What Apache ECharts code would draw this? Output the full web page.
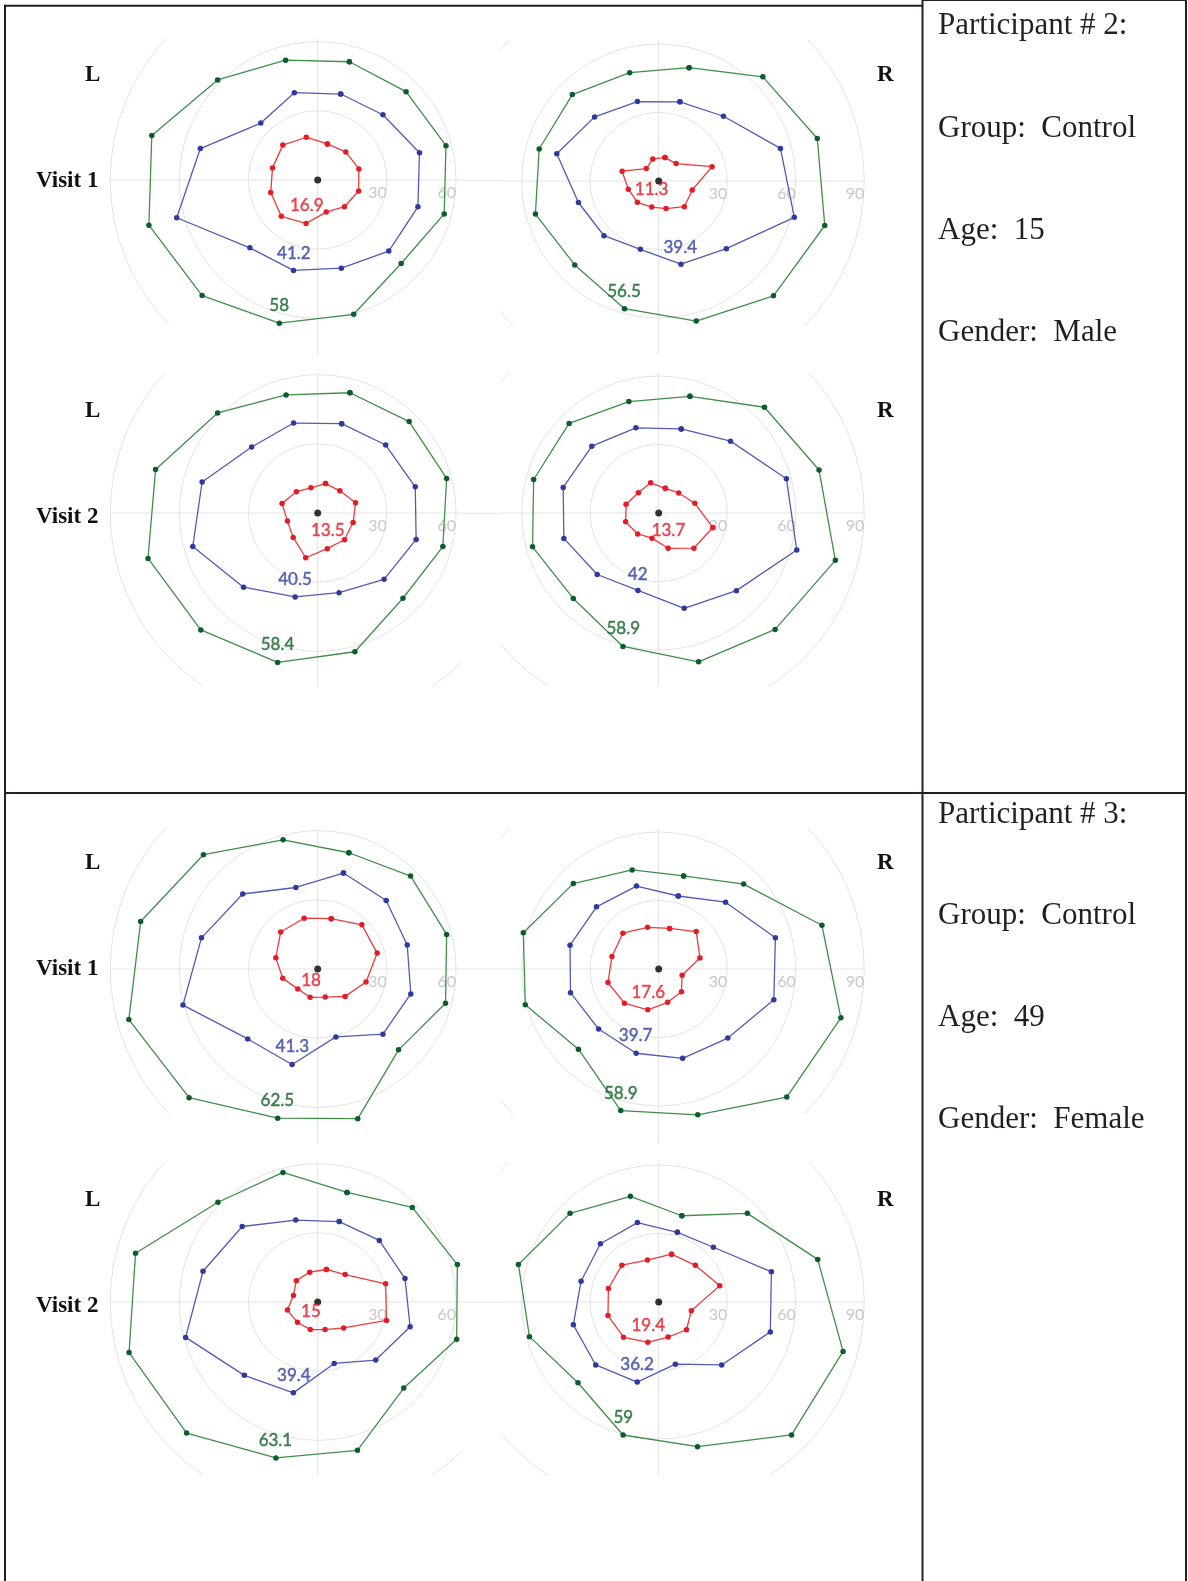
<!DOCTYPE html>
<html>
<head>
<meta charset="utf-8">
<script src="https://cdn.jsdelivr.net/npm/echarts/dist/echarts.min.js"></script>
<style>
  html, body { margin: 0; padding: 0; background: #ffffff; }
  #page { position: relative; width: 1188px; height: 1581px; overflow: hidden; background: #ffffff; }
  #page > div { position: absolute; }
</style>
</head>
<body>
<div id="page">
  <div id="sheet" style="left:0;top:0;width:1188px;height:1581px"></div>
</div>
<script>
// Compass direction (degrees clockwise from the top) of the 12 tested meridians
const meridians = [15, 45, 75, 105, 135, 165, 195, 225, 255, 285, 315, 345];

// Radius-axis ticks (degrees of visual field)
const radiusTicks = [0, 30, 60, 90];

// Participant 2, visit 1
const p2v1L_inner  = [16.2, 17.2, 18.5, 18.4, 16.4, 14.4, 19.5, 22.3, 21.1, 20.3, 21.4, 19.2];
const p2v1L_middle = [38.6, 40.0, 45.7, 45.0, 43.6, 39.6, 40.6, 41.6, 63.3, 52.7, 34.9, 39.2];
const p2v1L_outer  = [53.1, 54.2, 57.6, 56.8, 51.2, 60.3, 64.3, 70.9, 75.8, 74.5, 61.4, 53.8];
const p2v1L_means  = ['16.9', '41.2', '58'];
const p2v1R_inner  = [10.6, 10.8, 24.2, 15.2, 15.9, 12.5, 11.8, 13.2, 13.8, 16.6, 7.7, 10.0];
const p2v1R_middle = [35.9, 40.1, 55.2, 61.5, 41.9, 37.7, 31.0, 33.9, 36.4, 46.2, 39.7, 36.0];
const p2v1R_outer  = [51.4, 64.5, 71.9, 75.3, 71.1, 63.5, 57.9, 52.0, 55.9, 54.2, 53.5, 49.1];
const p2v1R_means  = ['11.3', '39.4', '56.5'];

// Participant 2, visit 2
const p2v2L_inner  = [13.2, 13.6, 17.0, 15.9, 16.4, 16.0, 20.1, 15.0, 13.6, 16.0, 13.1, 11.3];
const p2v2L_middle = [40.1, 41.7, 43.8, 44.2, 40.7, 35.8, 37.7, 45.5, 56.1, 51.9, 40.5, 40.4];
const p2v2L_outer  = [54.0, 56.1, 57.9, 56.2, 52.3, 62.3, 67.1, 71.7, 76.2, 72.8, 61.4, 53.0];
const p2v2L_means  = ['13.5', '40.5', '58.4'];
const p2v2R_inner  = [11.2, 12.4, 16.4, 24.5, 21.8, 16.0, 11.4, 13.0, 15.0, 14.8, 12.6, 13.7];
const p2v2R_middle = [38.1, 44.5, 57.9, 62.6, 48.1, 43.2, 35.1, 38.1, 43.0, 43.3, 41.4, 38.6];
const p2v2R_outer  = [52.9, 65.5, 72.7, 80.1, 72.1, 67.5, 60.5, 52.9, 57.2, 56.7, 55.5, 50.5];
const p2v2R_means  = ['13.7', '42', '58.9'];

// Participant 3, visit 1
const p3v1L_inner  = [22.6, 27.1, 26.7, 21.7, 16.8, 12.6, 12.7, 12.2, 15.7, 18.8, 22.7, 22.8];
const p3v1L_middle = [43.1, 42.0, 40.2, 41.8, 40.0, 30.5, 42.9, 42.9, 60.5, 52.2, 46.0, 36.6];
const p3v1L_outer  = [52.2, 57.0, 57.9, 57.4, 49.6, 67.2, 67.0, 78.9, 84.8, 79.5, 70.1, 58.0];
const p3v1L_means  = ['18', '41.3', '62.5'];
const p3v1R_inner  = [18.4, 23.2, 18.7, 10.6, 14.1, 15.1, 18.5, 21.2, 23.0, 21.2, 22.2, 18.9];
const p3v1R_middle = [33.1, 41.4, 52.9, 52.2, 42.8, 40.5, 38.2, 37.2, 40.0, 40.2, 38.5, 37.6];
const p3v1R_outer  = [42.2, 52.6, 74.0, 82.6, 79.3, 66.1, 64.2, 49.7, 60.5, 61.4, 52.9, 44.9];
const p3v1R_means  = ['17.6', '39.7', '58.9'];

// Participant 3, visit 2
const p3v2L_inner  = [14.6, 16.8, 30.5, 30.9, 15.9, 12.4, 12.4, 12.4, 13.6, 10.9, 13.1, 13.4];
const p3v2L_middle = [36.1, 37.8, 39.2, 41.5, 35.6, 27.6, 40.8, 45.0, 59.3, 51.5, 46.3, 36.8];
const p3v2L_outer  = [49.2, 58.0, 62.7, 62.4, 52.8, 66.6, 70.0, 80.4, 84.7, 81.8, 61.2, 58.2];
const p3v2L_means  = ['15', '39.4', '63.1'];
const p3v2R_inner  = [21.7, 22.7, 27.7, 14.8, 17.2, 15.9, 18.3, 21.8, 23.0, 22.8, 22.8, 19.0];
const p3v2R_middle = [31.6, 33.9, 51.1, 50.6, 39.0, 28.2, 36.3, 39.0, 38.7, 35.2, 36.1, 36.0];
const p3v2R_outer  = [39.1, 54.9, 72.1, 83.6, 82.3, 65.6, 60.3, 50.0, 58.6, 63.6, 54.9, 47.9];
const p3v2R_means  = ['19.4', '36.2', '59'];

// Participant details shown in the right-hand column
const participants = [
  ['Participant # 2:', 'Group:  Control', 'Age:  15', 'Gender:  Male'],
  ['Participant # 3:', 'Group:  Control', 'Age:  49', 'Gender:  Female']
];

// ---------------------------------------------------------------------------
// Styling
const ISOPTER_STYLE = [
  { line: '#ee3b3b', dot: '#e21d27', text: '#e41e2a' },   // inner
  { line: '#515bb6', dot: '#2e3b9c', text: '#3543a3' },   // middle
  { line: '#3f8f47', dot: '#0c5d2b', text: '#14652c' }    // outer
];
const GRID_COLOR = '#e3e3e3';
const INK = '#231f20';
const LABEL_FONT = 'Lato';

// Panel layout: grid clipping box [left, top, width, height], polar centre (page px),
// radius of the 90 ring in px, and where the summary numbers sit ([radius, compass deg]).
const panels = [
  { box: [106, 39, 356, 286],   center: [317.7, 180],    R: 207.5,
    rings: [p2v1L_inner, p2v1L_middle, p2v1L_outer], means: p2v1L_means,
    spots: [[12.1, 203], [33.5, 198], [57.1, 197]] },
  { box: [500, 39.5, 368, 286], center: [658.7, 180.5],  R: 205.5,
    rings: [p2v1R_inner, p2v1R_middle, p2v1R_outer], means: p2v1R_means,
    spots: [[4.9, 219], [30.5, 162], [50.6, 197.5]] },
  { box: [106, 373.3, 356, 313], center: [317.7, 513.3], R: 207.5,
    rings: [p2v2L_inner, p2v2L_middle, p2v2L_outer], means: p2v2L_means,
    spots: [[8.7, 150], [30.3, 199], [59.6, 197]] },
  { box: [500, 373.3, 368, 313], center: [658.7, 513.3], R: 205.5,
    rings: [p2v2R_inner, p2v2R_middle, p2v2R_outer], means: p2v2R_means,
    spots: [[8.8, 151], [28.3, 199], [53.1, 197]] },
  { box: [106, 828, 356, 286],   center: [317.7, 969],    R: 207.5,
    rings: [p3v1L_inner, p3v1L_middle, p3v1L_outer], means: p3v1L_means,
    spots: [[5.6, 211], [35.5, 198], [59.8, 197]] },
  { box: [500, 828, 368, 286],   center: [658.7, 969],    R: 205.5,
    rings: [p3v1R_inner, p3v1R_middle, p3v1R_outer], means: p3v1R_means,
    spots: [[11.2, 204], [31.0, 199], [56.9, 197]] },
  { box: [106, 1162.3, 356, 313], center: [317.7, 1302.3], R: 207.5,
    rings: [p3v2L_inner, p3v2L_middle, p3v2L_outer], means: p3v2L_means,
    spots: [[5.0, 216], [33.5, 198], [62.7, 197]] },
  { box: [500, 1162.3, 368, 313], center: [658.7, 1302.3], R: 205.5,
    rings: [p3v2R_inner, p3v2R_middle, p3v2R_outer], means: p3v2R_means,
    spots: [[11.2, 204], [29.1, 199], [53.1, 197]] }
];

// The angle axis starts at 3 o'clock and runs clockwise, so a compass bearing
// (clockwise from 12 o'clock) maps to bearing - 90.
function toAxisAngle(bearing) { return (bearing + 270) % 360; }

function closedRing(values) {
  const pts = values.map((r, i) => [r, toAxisAngle(meridians[i])]);
  pts.push(pts[0]);
  return pts;
}

function axes(showGrid) {
  return {
    angleAxis: {
      type: 'value', min: 0, max: 360, interval: 90,
      startAngle: 0, clockwise: true,
      axisLine: { show: false }, axisTick: { show: false }, axisLabel: { show: false },
      splitLine: { show: showGrid, lineStyle: { color: GRID_COLOR, width: 1 } }
    },
    radiusAxis: {
      type: 'value',
      min: radiusTicks[0], max: radiusTicks[radiusTicks.length - 1],
      interval: radiusTicks[1] - radiusTicks[0],
      axisLine: { show: false }, axisTick: { show: false },
      axisLabel: {
        show: showGrid, color: '#c8c8c8', fontFamily: LABEL_FONT, fontSize: 16,
        margin: -13, align: 'right', verticalAlign: 'middle',
        formatter: v => (v === 0 ? '' : String(v))
      },
      splitLine: { show: showGrid, lineStyle: { color: GRID_COLOR, width: 1 } }
    }
  };
}

// Grid layer: rings, meridian cross and tick labels, clipped to the panel box
function gridOption(p, box) {
  return Object.assign({
    animation: false,
    polar: { center: [p.center[0] - box[0], p.center[1] - box[1]], radius: p.R },
    series: []
  }, axes(true));
}

// Data layer: the three isopters, fixation point and summary numbers
function dataOption(p, box) {
  const series = [];
  [2, 1, 0].forEach(k => {
    const st = ISOPTER_STYLE[k];
    series.push({
      type: 'line',
      coordinateSystem: 'polar',
      data: closedRing(p.rings[k]),
      symbol: 'circle',
      symbolSize: 5.5,
      showSymbol: true,
      clip: false,
      lineStyle: { color: st.line, width: 1.3 },
      itemStyle: { color: st.dot },
      emphasis: { disabled: true },
      z: 3 + (2 - k)
    });
  });
  series.push({
    type: 'scatter',
    coordinateSystem: 'polar',
    data: [[0, 0]],
    symbolSize: 7,
    itemStyle: { color: '#000000' },
    z: 8
  });
  series.push({
    type: 'scatter',
    coordinateSystem: 'polar',
    symbolSize: 0,
    z: 9,
    data: p.spots.map((s, k) => ({
      value: [s[0], toAxisAngle(s[1])],
      label: {
        show: true,
        position: 'inside',
        formatter: p.means[k],
        color: ISOPTER_STYLE[k].text,
        textBorderColor: ISOPTER_STYLE[k].text,
        textBorderWidth: 0.45,
        fontFamily: LABEL_FONT,
        fontSize: 17
      }
    }))
  });
  return Object.assign({
    animation: false,
    polar: { center: [p.center[0] - box[0], p.center[1] - box[1]], radius: p.R },
    series
  }, axes(false));
}

// ---------------------------------------------------------------------------
// Table frame, side labels and participant details
const page = document.getElementById('page');
const sheet = echarts.init(document.getElementById('sheet'), null, { renderer: 'canvas' });

const graphics = [];
function rule(x1, y1, x2, y2, color, width) {
  graphics.push({ type: 'line', silent: true, z: 1,
    shape: { x1, y1, x2, y2 }, style: { stroke: color, lineWidth: width } });
}
function label(text, x, baseline, font, size, color) {
  graphics.push({ type: 'text', silent: true, z: 2,
    style: { text, x, y: baseline - size * 0.34, font: font, fill: color,
             textAlign: 'left', textVerticalAlign: 'middle' } });
}

// table borders
rule(4, 5.7, 923, 5.7, INK, 2);
rule(922.5, 0, 1187, 0, INK, 2);
rule(5, 4.7, 5, 1581, INK, 2);
rule(922.5, 0, 922.5, 1581, INK, 2);
rule(1186, 0, 1186, 1581, INK, 2);
rule(4, 793, 1187, 793, INK, 2);

// horizontal meridian bridging the gap between left- and right-eye grids
[180.5, 513.3, 969, 1302.3].forEach(c => rule(462, c, 500, c, GRID_COLOR, 1));

// vertical meridian continues below the first-visit panels
[180, 969].forEach(c => {
  rule(317.7, c + 145, 317.7, c + 174, GRID_COLOR, 1);
  rule(658.7, c + 145, 658.7, c + 174, GRID_COLOR, 1);
});

// eye and visit labels
const SIDE_FONT = 'bold 23px "Liberation Serif"';
[[83, 189, 'Visit 1'], [419, 525, 'Visit 2'], [871, 977, 'Visit 1'], [1208, 1314, 'Visit 2']]
  .forEach(([eyeBase, visitBase, visit]) => {
    label('L', 85, eyeBase, SIDE_FONT, 23, '#111111');
    label('R', 877, eyeBase, SIDE_FONT, 23, '#111111');
    label(visit, 36, visitBase, SIDE_FONT, 23, '#111111');
  });

// participant details
const INFO_FONT = '31px "Liberation Serif"';
const infoBaselines = [[36, 139, 241, 343], [825, 926.5, 1028.5, 1130]];
participants.forEach((lines, i) => {
  lines.forEach((t, j) => label(t, 938, infoBaselines[i][j], INFO_FONT, 31, INK));
});

sheet.setOption({ animation: false, graphic: graphics });

// ---------------------------------------------------------------------------
// Two charts per panel: a clipped grid layer and a taller data layer on top
function mount(box, option) {
  const div = document.createElement('div');
  div.style.left = box[0] + 'px';
  div.style.top = box[1] + 'px';
  div.style.width = box[2] + 'px';
  div.style.height = box[3] + 'px';
  page.appendChild(div);
  echarts.init(div, null, { renderer: 'canvas' }).setOption(option);
}

panels.forEach(p => {
  mount(p.box, gridOption(p, p.box));
  const left = p.center[0] < 500 ? 106 : 462;
  const dataBox = [left, p.center[1] - 160, 868 - left - (left === 106 ? 406 : 0), 350];
  mount(dataBox, dataOption(p, dataBox));
});
</script>
</body>
</html>
